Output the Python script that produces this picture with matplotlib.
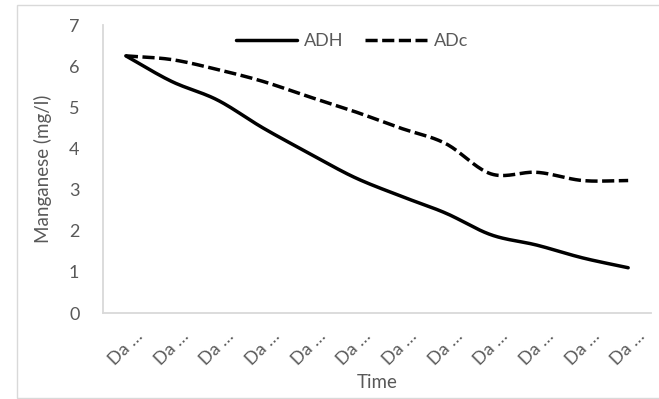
import numpy as np
import matplotlib
matplotlib.use("Agg")
import matplotlib.pyplot as plt
import matplotlib.transforms as mtransforms
from matplotlib.patches import Rectangle

# manganese readings per sampling day
days = ["Da …"] * 12
adh = [6.25, 5.63, 5.18, 4.50, 3.89, 3.30, 2.85, 2.43, 1.90, 1.65, 1.34, 1.10]
adc = [6.25, 6.16, 5.92, 5.63, 5.26, 4.90, 4.50, 4.12, 3.38, 3.42, 3.22, 3.22]

TEXT = "#595959"
AXIS = "#d9d9d9"

plt.rcParams["font.family"] = ["Lato", "DejaVu Sans"]


def smooth(y, steps=20):
    # Catmull-Rom style curve through the points (like Excel's smoothed line)
    y = np.asarray(y, dtype=float)
    x = np.arange(len(y), dtype=float)
    m = np.zeros_like(y)
    m[1:-1] = (y[2:] - y[:-2]) / 2
    m[0] = y[1] - y[0]
    m[-1] = y[-1] - y[-2]
    xs, ys = [], []
    for i in range(len(y) - 1):
        t = np.linspace(0, 1, steps, endpoint=False)
        h00 = 2 * t**3 - 3 * t**2 + 1
        h10 = t**3 - 2 * t**2 + t
        h01 = -2 * t**3 + 3 * t**2
        h11 = t**3 - t**2
        xs.append(x[i] + t)
        ys.append(h00 * y[i] + h10 * m[i] + h01 * y[i + 1] + h11 * m[i + 1])
    xs.append([x[-1]])
    ys.append([y[-1]])
    return np.concatenate(xs), np.concatenate(ys)


fig = plt.figure(figsize=(6.59, 3.99), dpi=100)
fig.patches.append(Rectangle((17 / 659, 0.003), 1.0, 1 - 5 / 399 - 0.003,
                             transform=fig.transFigure, fill=False,
                             edgecolor=AXIS, linewidth=1.0))
ax = fig.add_axes([103 / 659, 1 - 313 / 399, 548 / 659, 288 / 399])

x1, y1 = smooth(adh)
x2, y2 = smooth(adc)
ax.plot(x1, y1, color="black", lw=2.5, solid_capstyle="round", label="ADH")
ax.plot(x2, y2, color="black", lw=2.5, linestyle=(0, (3.5, 1.3)), label="ADc")

ax.set_xlim(-0.5, len(days) - 0.5)
ax.set_ylim(0, 7)
ax.set_yticks(range(0, 8))
ax.set_xticks(range(len(days)))
ax.set_xticklabels(days, rotation=45, ha="center", va="top")
offset = mtransforms.ScaledTranslation(-5 / 100, 0, fig.dpi_scale_trans)
for lbl in ax.get_xticklabels():
    lbl.set_transform(lbl.get_transform() + offset)

ax.tick_params(axis="both", length=0, colors=TEXT, labelsize=13)
ax.tick_params(axis="y", pad=17)
ax.tick_params(axis="x", pad=11)
for side in ("top", "right"):
    ax.spines[side].set_visible(False)
for side in ("left", "bottom"):
    ax.spines[side].set_color(AXIS)
    ax.spines[side].set_linewidth(1.3)

ax.set_ylabel("Manganese (mg/l)", color=TEXT, fontsize=13.5, labelpad=12)
ax.set_xlabel("Time", color=TEXT, fontsize=13.5, labelpad=4)

leg = ax.legend(loc="center", bbox_to_anchor=(352 / 659, 1 - 41 / 399),
                bbox_transform=fig.transFigure, ncol=2, frameon=False,
                fontsize=13, handlelength=3.4, handletextpad=0.4,
                columnspacing=1.2)
for t in leg.get_texts():
    t.set_color(TEXT)

fig.savefig("out.png", dpi=100)
